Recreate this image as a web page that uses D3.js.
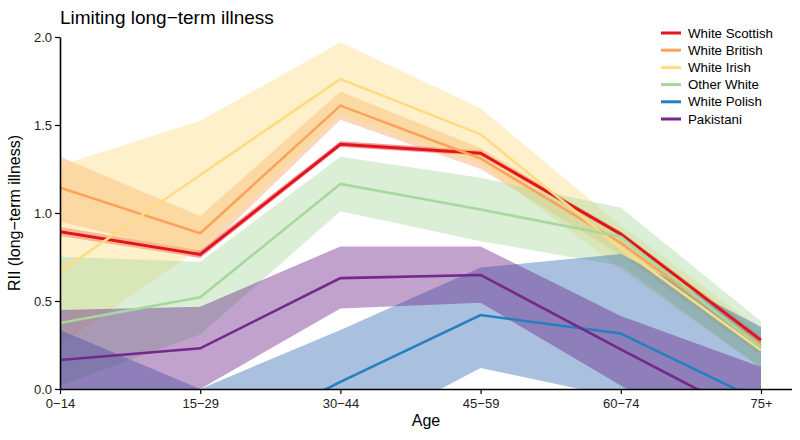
<!DOCTYPE html>
<html><head><meta charset="utf-8">
<script src="https://cdn.jsdelivr.net/npm/d3@7"></script>
<style>body{margin:0;background:#fff}svg{display:block}text{font-family:"Liberation Sans",Arial,sans-serif}</style>
</head><body>
<svg id="chart" width="800" height="440"></svg>
<script>
const ages = ["0−14","15−29","30−44","45−59","60−74","75+"];
const groups = ["White Scottish","White British","White Irish","Other White","White Polish","Pakistani"];
const colors = ["#e3141c","#f9a35c","#fddc82","#a8d89e","#2680c0","#74288a"];
const bandColors = ["#e3141c","#f9a35c","#fddc82","#a8d89e","#326bb0","#6a2288"];
const yTicks = [0.0,0.5,1.0,1.5,2.0];

const scottishRII = [0.894,0.765,1.39,1.34,0.88,0.278];
const scottishLo  = [0.87,0.745,1.375,1.325,0.865,0.262];
const scottishHi  = [0.92,0.787,1.407,1.357,0.897,0.295];

const britishRII = [1.144,0.885,1.61,1.31,0.83,0.25];
const britishLo  = [0.95,0.76,1.53,1.25,0.76,0.19];
const britishHi  = [1.32,0.983,1.69,1.37,0.89,0.31];

const irishRII = [0.667,1.216,1.761,1.447,0.80,0.22];
const irishLo  = [0.25,0.80,1.56,1.28,0.68,0.12];
const irishHi  = [1.27,1.524,1.97,1.595,0.93,0.34];

const otherRII = [0.375,0.521,1.165,1.02,0.865,0.235];
const otherLo  = [0.02,0.31,1.01,0.84,0.70,0.12];
const otherHi  = [0.752,0.723,1.32,1.20,1.03,0.385];

const polishRII = [-0.1,-0.36,0.04,0.42,0.315,-0.07];
const polishLo  = [-0.6,-0.8,-0.3,0.12,-0.05,-0.5];
const polishHi  = [0.335,0.0,0.335,0.69,0.767,0.354];

const pakRII = [0.165,0.231,0.63,0.648,0.225,-0.19];
const pakLo  = [-0.1,0.0,0.458,0.49,0.02,-0.4];
const pakHi  = [0.449,0.468,0.81,0.81,0.415,0.125];

const est = [scottishRII,britishRII,irishRII,otherRII,polishRII,pakRII];
const los = [scottishLo,britishLo,irishLo,otherLo,polishLo,pakLo];
const his = [scottishHi,britishHi,irishHi,otherHi,polishHi,pakHi];

const svg = d3.select("#chart");
const L = 60, R = 792, T = 37, B = 389;
const x = d3.scalePoint().domain(ages).range([L, 761]);
const y = d3.scaleLinear().domain([0,2]).range([B, T]);

svg.append("defs").append("clipPath").attr("id","clip")
  .append("rect").attr("x",L).attr("y",T).attr("width",R-L).attr("height",B-T);
const plot = svg.append("g").attr("clip-path","url(#clip)");

const series = groups.map((g,i)=>({name:g,color:colors[i],band:bandColors[i],
  pts: ages.map((a,j)=>({a, v:est[i][j], lo:los[i][j], hi:his[i][j]}))}));

const area = d3.area().x(d=>x(d.a)).y0(d=>y(d.lo)).y1(d=>y(d.hi));
const line = d3.line().x(d=>x(d.a)).y(d=>y(d.v));

plot.selectAll("path.band").data(series).join("path").attr("class","band")
  .attr("d",d=>area(d.pts)).attr("fill",d=>d.band).attr("fill-opacity",0.42).attr("stroke","none");
plot.selectAll("path.ln").data(series).join("path").attr("class","ln")
  .attr("d",d=>line(d.pts)).attr("fill","none").attr("stroke",d=>d.color)
  .attr("stroke-width",(d,i)=>i===0?3:2.6).attr("stroke-linejoin","miter");

// axes
const xAxis = svg.append("g").attr("transform",`translate(0,${B})`)
  .call(d3.axisBottom(x).tickSize(5).tickSizeOuter(0));
xAxis.select(".domain").attr("d",`M${L},0.5H${R}`).attr("stroke","#000").attr("stroke-width",1.6);
xAxis.selectAll(".tick line").attr("stroke","#000").attr("stroke-width",1.2);
xAxis.selectAll(".tick text").attr("font-size",13).attr("fill","#222").attr("dy","0.85em");

const yAxis = svg.append("g").attr("transform",`translate(${L},0)`)
  .call(d3.axisLeft(y).tickValues(yTicks).tickFormat(d3.format(".1f")).tickSize(5).tickSizeOuter(0));
yAxis.select(".domain").attr("stroke","#000").attr("stroke-width",1.6);
yAxis.selectAll(".tick line").attr("stroke","#000").attr("stroke-width",1.2);
yAxis.selectAll(".tick text").attr("font-size",13).attr("fill","#222");

svg.append("text").attr("x",60).attr("y",24).attr("font-size",19).attr("fill","#000")
  .text("Limiting long−term illness");
svg.append("text").attr("x",426).attr("y",426).attr("text-anchor","middle").attr("font-size",16)
  .text("Age");
svg.append("text").attr("transform","translate(20,213) rotate(-90)").attr("text-anchor","middle")
  .attr("font-size",16).text("RII (long−term illness)");

// legend
const lg = svg.append("g");
groups.forEach((g,i)=>{
  const yy = 33 + i*17.2;
  lg.append("line").attr("x1",661).attr("x2",681).attr("y1",yy).attr("y2",yy)
    .attr("stroke",colors[i]).attr("stroke-width",3);
  lg.append("text").attr("x",688).attr("y",yy).attr("dy","0.35em").attr("font-size",13.3).text(g);
});
</script>
</body></html>
